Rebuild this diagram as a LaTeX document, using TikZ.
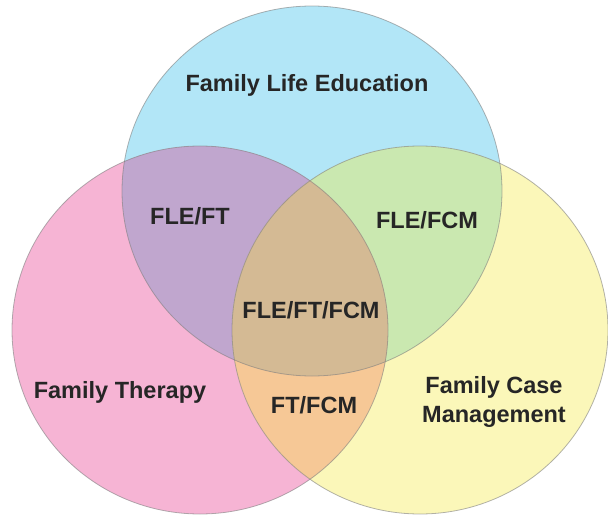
\documentclass[tikz,border=0pt]{standalone}
\usepackage{fontspec}
\setmainfont{Liberation Sans}
\usepackage{tikz}
\usepackage{color}

\definecolor{fleblue}{HTML}{B2E6F7}
\definecolor{ftpink}{HTML}{F6B4D4}
\definecolor{fcmyellow}{HTML}{FBF7B9}
\definecolor{fleftmix}{HTML}{C0A6CE}
\definecolor{flefcmmix}{HTML}{CAE8B0}
\definecolor{ftfcmmix}{HTML}{F6C896}
\definecolor{allmix}{HTML}{D4BA94}

\newcommand{\circFLE}{(312,191) circle [x radius=190pt, y radius=185pt]}
\newcommand{\circFT}{(200,330) circle [x radius=188pt, y radius=184pt]}
\newcommand{\circFCM}{(420,330) circle [x radius=188pt, y radius=184pt]}

\tikzset{
  rim/.style={draw=gray, line width=0.8pt, draw opacity=0.6},
  vlabel/.style={font=\bfseries\fontsize{23.5}{29}\selectfont, text=black!85,
    align=center, inner sep=0pt, anchor=base}
}

\begin{document}
\begin{tikzpicture}[x=1pt, y=-1pt]
\useasboundingbox (0,0) rectangle (608,516);
% the three sets
\fill[fleblue] \circFLE;
\fill[ftpink] \circFT;
\fill[fcmyellow] \circFCM;
% pairwise overlaps
\begin{scope}
  \clip \circFLE;
  \fill[fleftmix] \circFT;
  \fill[flefcmmix] \circFCM;
\end{scope}
\begin{scope}
  \clip \circFT;
  \fill[ftfcmmix] \circFCM;
\end{scope}
% common part
\begin{scope}
  \clip \circFLE;
  \clip \circFT;
  \fill[allmix] \circFCM;
\end{scope}
% outlines
\draw[rim] \circFLE;
\draw[rim] \circFT;
\draw[rim] \circFCM;

\node[vlabel] (fle) at (307,92) {Family Life Education};
\node[vlabel] (ft) at (120,398) {Family Therapy};
\node[vlabel] (fcm) at (494,422) {Family Case\\Management};
\node[vlabel] (fleft) at (190,224) {FLE/FT};
\node[vlabel] (flefcm) at (427,228) {FLE/FCM};
\node[vlabel] (ftfcm) at (314,413) {FT/FCM};
\node[vlabel] (all) at (311,318) {FLE/FT/FCM};
\end{tikzpicture}
\end{document}
